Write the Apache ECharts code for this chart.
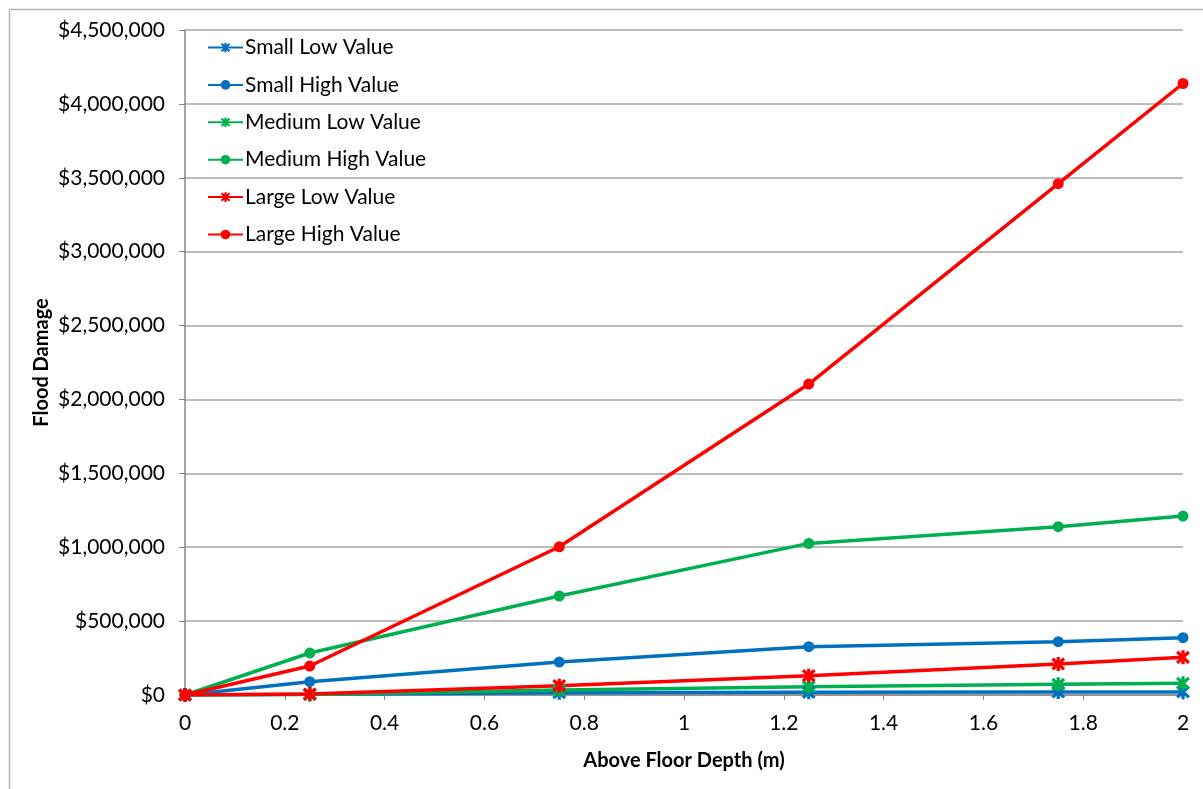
<!DOCTYPE html>
<html>
<head>
<meta charset="utf-8">
<title>Flood Damage</title>
<script src="https://cdn.jsdelivr.net/npm/echarts@6/dist/echarts.min.js"></script>
<style>
  html, body { margin: 0; padding: 0; background: #fff; }
  #chart { width: 1203px; height: 789px; }
</style>
</head>
<body>
<div id="chart"></div>
<script>
// depth above floor (m)
const depths = [0, 0.25, 0.75, 1.25, 1.75, 2]
const smallLow = [0, 5000, 15000, 18000, 20000, 21000]
const smallHigh = [0, 90000, 223000, 327000, 361000, 388000]
const mediumLow = [0, 3000, 34000, 56000, 72000, 79000]
const mediumHigh = [0, 284000, 670000, 1026000, 1139000, 1211000]
const largeLow = [0, 7000, 63000, 131000, 210000, 255000]
const largeHigh = [0, 196000, 1003000, 2104000, 3460000, 4138000]

const blue = '#0070C0'
const green = '#00B050'
const red = '#FF0000'
const fontFamily = 'Lato, "Open Sans", sans-serif'

// asterisk marker made of three bars
const asterisk = 'path://M3.9,0L6.1,0L6.1,10L3.9,10Z' +
  'M0.3,1.9L1.9,0.3L9.7,8.1L8.1,9.7Z' +
  'M8.1,0.3L9.7,1.9L1.9,9.7L0.3,8.1Z'

function pairs (vals) {
  return depths.map((d, i) => [d, vals[i]])
}

function makeSeries (name, vals, color, star) {
  return {
    name: name,
    type: 'line',
    data: pairs(vals),
    symbol: star ? asterisk : 'circle',
    symbolSize: star ? 14 : 11,
    showAllSymbol: true,
    lineStyle: { color: color, width: 3.5 },
    itemStyle: { color: color },
    emphasis: { disabled: true },
    z: 3
  }
}

let myChart = echarts.init(document.getElementById('chart'))
myChart.setOption({
  backgroundColor: '#ffffff',
  animation: false,
  textStyle: { fontFamily: fontFamily },
  graphic: [{
    type: 'rect',
    left: 7,
    top: 7,
    shape: { width: 1300, height: 900 },
    style: { fill: 'none', stroke: '#b4b4b4', lineWidth: 1.5 },
    silent: true
  }],
  grid: {
    left: 185,
    right: 20,
    top: 30,
    bottom: 94
  },
  legend: {
    orient: 'vertical',
    left: 202,
    top: 32,
    itemWidth: 35,
    itemHeight: 12,
    itemGap: 16.4,
    textStyle: { fontSize: 21, color: '#000', lineHeight: 21, fontFamily: fontFamily, padding: [0, 0, 0, -3] },
    data: ['Small Low Value', 'Small High Value', 'Medium Low Value', 'Medium High Value', 'Large Low Value', 'Large High Value']
  },
  xAxis: {
    type: 'value',
    min: 0,
    max: 2,
    interval: 0.2,
    name: 'Above Floor Depth (m)',
    nameLocation: 'middle',
    nameGap: 56,
    nameMoveOverlap: false,
    nameTextStyle: { fontSize: 20, fontWeight: 'bold', color: '#000' },
    axisLine: { onZero: false, lineStyle: { color: '#868686', width: 1.5 } },
    axisTick: { show: true, length: 5, lineStyle: { color: '#868686' } },
    axisLabel: { fontSize: 21, color: '#000', margin: 18, formatter: v => String(+v.toFixed(1)) },
    splitLine: { show: false }
  },
  yAxis: {
    type: 'value',
    min: 0,
    max: 4500000,
    interval: 500000,
    name: 'Flood Damage',
    nameLocation: 'middle',
    nameGap: 133,
    nameMoveOverlap: false,
    nameRotate: 90,
    nameTextStyle: { fontSize: 20, fontWeight: 'bold', color: '#000' },
    axisLine: { show: true, lineStyle: { color: '#868686', width: 1.5 } },
    axisTick: { show: true, length: 6, lineStyle: { color: '#868686' } },
    axisLabel: { fontSize: 21, color: '#000', margin: 20, formatter: v => '$' + v.toLocaleString('en-US') },
    splitLine: { show: true, lineStyle: { color: '#a6a6a6', width: 1.5 } }
  },
  series: [
    makeSeries('Small Low Value', smallLow, blue, true),
    makeSeries('Small High Value', smallHigh, blue, false),
    makeSeries('Medium Low Value', mediumLow, green, true),
    makeSeries('Medium High Value', mediumHigh, green, false),
    makeSeries('Large Low Value', largeLow, red, true),
    makeSeries('Large High Value', largeHigh, red, false)
  ]
})
</script>
</body>
</html>
